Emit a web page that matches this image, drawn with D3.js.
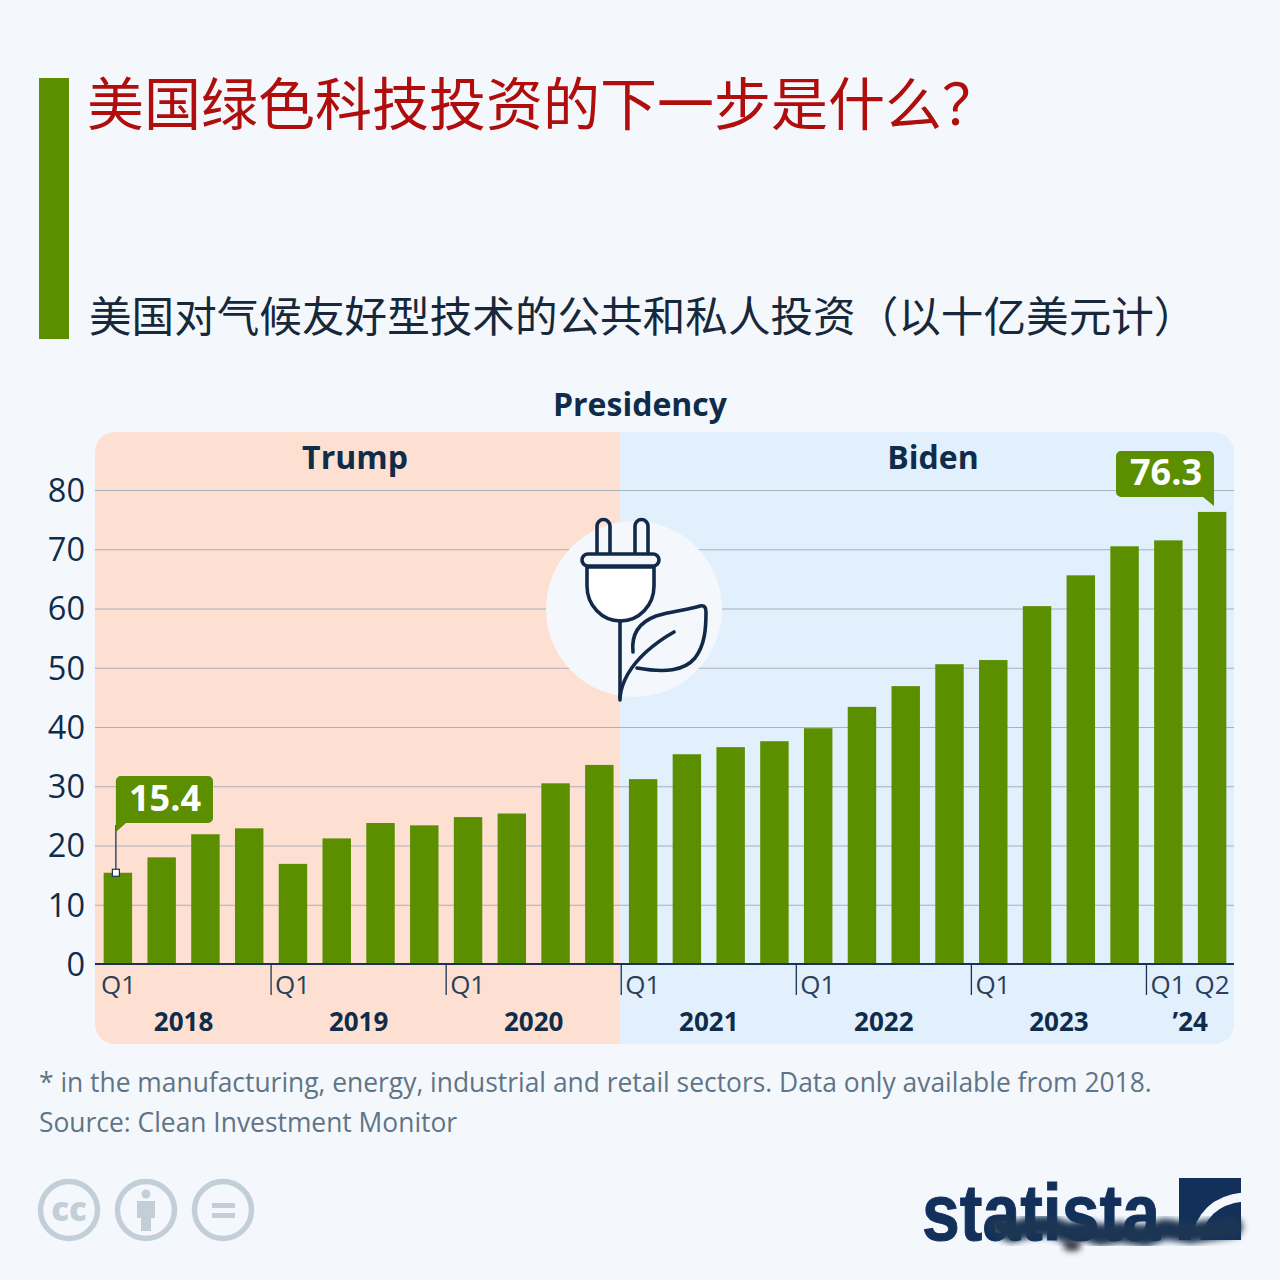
<!DOCTYPE html>
<html>
<head>
<meta charset="utf-8">
<script src="https://cdn.jsdelivr.net/npm/d3@7"></script>
<style>
body { margin: 0; background: #f4f8fc; }
text { font-family: "Open Sans", sans-serif; }
.cjk { font-family: "Noto Sans CJK SC", sans-serif; }
</style>
</head>
<body>
<div id="chart"></div>
<script>
// Data
var quarters = ["Q1","Q2","Q3","Q4"];
var years = ["2018","2019","2020","2021","2022","2023","’24"];
var yearQuarterCount = [4,4,4,4,4,4,2];
var values = [15.4,18.0,21.9,22.9,16.9,21.2,23.8,23.4,24.8,25.4,30.5,33.6,
	31.2,35.4,36.6,37.6,39.8,43.4,46.9,50.6,51.3,60.4,65.6,70.5,71.5,76.3];
var yTicks = [0,10,20,30,40,50,60,70,80];
var presidents = ["Trump","Biden"];
var presidentQuarterCount = [12,14];
var title = "美国绿色科技投资的下一步是什么？";
var subtitle = "美国对气候友好型技术的公共和私人投资（以十亿美元计）";
var notes = ["* in the manufacturing, energy, industrial and retail sectors. Data only available from 2018.",
	"Source: Clean Investment Monitor"];

var dark = "#0f2c4b", green = "#5b8f00", grey = "#5f7486";
var panelLeft = 95, panelRight = 1234, panelTop = 432, panelBottom = 1044, plotLeft = 96;

var svg = d3.select("#chart").append("svg").attr("width", 1280).attr("height", 1280);

//header
svg.append("rect").attr("x", 39).attr("y", 78).attr("width", 30).attr("height", 261).attr("fill", green);
svg.append("text").attr("class", "cjk").attr("x", 87).attr("y", 125)
	.attr("font-size", 57).attr("fill", "#b00d0d").text(title);
svg.append("text").attr("class", "cjk").attr("x", 89).attr("y", 332)
	.attr("font-size", 42.6).attr("fill", "#16283a").text(subtitle);

//scales
var x = d3.scaleBand().domain(d3.range(values.length))
	.range([plotLeft, panelRight]).paddingInner(0.35).paddingOuter(0.175);
var y = d3.scaleLinear().domain([0, 80]).range([964, 490]);
var bandStart = function(i) { return i >= values.length ? panelRight : plotLeft + i * x.step(); };

//presidency panels, rounded on the outside only
var split = bandStart(presidentQuarterCount[0]) - 1;
var clip = svg.append("clipPath").attr("id", "panelClip");
clip.append("rect").attr("x", panelLeft).attr("y", panelTop)
	.attr("width", panelRight - panelLeft).attr("height", panelBottom - panelTop).attr("rx", 20);
var panels = svg.append("g").attr("clip-path", "url(#panelClip)");
panels.append("rect").attr("x", panelLeft).attr("y", panelTop).attr("width", split - panelLeft)
	.attr("height", panelBottom - panelTop).attr("fill", "#fee0d2");
panels.append("rect").attr("x", split).attr("y", panelTop).attr("width", panelRight - split)
	.attr("height", panelBottom - panelTop).attr("fill", "#e2effd");

svg.append("text").attr("x", 640).attr("y", 416).attr("text-anchor", "middle")
	.attr("font-size", 32).attr("font-weight", 700).attr("fill", dark).text("Presidency");
var presidentX = [355, 933];
svg.selectAll(".president").data(presidents).join("text").attr("class", "president")
	.attr("x", function(d, i) { return presidentX[i]; }).attr("y", 469).attr("text-anchor", "middle")
	.attr("font-size", 32).attr("font-weight", 700).attr("fill", dark).text(function(d) { return d; });

//y axis and grid
var yAxis = d3.axisLeft(y).tickValues(yTicks).tickSize(-(panelRight - panelLeft)).tickPadding(10);
var yg = svg.append("g").attr("transform", "translate(" + panelLeft + ",0)").call(yAxis);
yg.select(".domain").remove();
yg.selectAll("line").attr("stroke", "#a9b1ba").attr("stroke-width", 1.2);
yg.selectAll("text").attr("font-size", 32.5).attr("fill", dark).attr("font-family", "'Open Sans', sans-serif")
	.attr("transform", "translate(0,1)");

//icon circle sits above the grid but under the bars
svg.append("circle").attr("cx", 634).attr("cy", 609).attr("r", 88).attr("fill", "#f4f8fc");
var icon = svg.append("g").attr("fill", "none").attr("stroke", "#12294a").attr("stroke-width", 3.6)
	.attr("stroke-linecap", "round").attr("stroke-linejoin", "round");
icon.append("path").attr("fill", "#fff").attr("d", "M587 567V586A33.5 35 0 0 0 654 586V567Z");
icon.append("path").attr("d", "M597 553V526A6.5 6.5 0 0 1 610 526V553M635 553V526A6.5 6.5 0 0 1 648 526V553");
icon.append("rect").attr("x", 582).attr("y", 554).attr("width", 77).attr("height", 12).attr("rx", 6).attr("fill", "#f4f8fc");
icon.append("path").attr("d", "M620 621V700");
icon.append("path").attr("d", "M633 652C631 634 640 622 656 616C672 611 688 610 700 606C705 605 706 608 706 612C706 628 705 645 695 658C684 671 665 673 637 668");
icon.append("path").attr("d", "M620 697C622 680 633 664 646 652C655 644 665 637 674 632");

//bars
svg.selectAll(".bar").data(values).join("rect").attr("class", "bar")
	.attr("x", function(d, i) { return x(i); })
	.attr("y", function(d) { return y(d); })
	.attr("width", x.bandwidth())
	.attr("height", function(d) { return y(0) - y(d); })
	.attr("fill", green);

//baseline and year ticks
svg.append("line").attr("x1", panelLeft).attr("x2", panelRight).attr("y1", y(0)).attr("y2", y(0))
	.attr("stroke", "#1c3350").attr("stroke-width", 2);
var yearStarts = yearQuarterCount.map(function(n, i) { return d3.sum(yearQuarterCount.slice(0, i)); });
svg.selectAll(".yearTick").data(yearStarts.slice(1)).join("line").attr("class", "yearTick")
	.attr("x1", function(d) { return bandStart(d); }).attr("x2", function(d) { return bandStart(d); })
	.attr("y1", y(0)).attr("y2", 995).attr("stroke", "#1c3350").attr("stroke-width", 1.3);
svg.selectAll(".q1").data(yearStarts).join("text").attr("class", "q1")
	.attr("x", function(d, i) { return bandStart(d) + (i ? 4 : 5); }).attr("y", 994)
	.attr("font-size", 26).attr("fill", "#2b4056").text(quarters[0]);
svg.append("text").attr("x", x(values.length - 1) + x.bandwidth() / 2).attr("y", 994).attr("text-anchor", "middle")
	.attr("font-size", 26).attr("fill", "#2b4056").text(quarters[1]);
svg.selectAll(".year").data(years).join("text").attr("class", "year")
	.attr("x", function(d, i) { return (bandStart(yearStarts[i]) + bandStart(yearStarts[i] + yearQuarterCount[i])) / 2; })
	.attr("y", 1031).attr("text-anchor", "middle")
	.attr("font-size", 26).attr("font-weight", 700).attr("fill", dark).text(function(d) { return d; });

//callouts for the first and the last bar
var firstX = x(0) + x.bandwidth() / 2 - 2;
svg.append("line").attr("x1", firstX).attr("x2", firstX).attr("y1", 825).attr("y2", y(values[0]))
	.attr("stroke", "#1c3350").attr("stroke-width", 1.3);
svg.append("rect").attr("x", firstX - 3.5).attr("y", y(values[0]) - 3.5).attr("width", 7).attr("height", 7)
	.attr("fill", "#fff").attr("stroke", "#1c3350").attr("stroke-width", 1.2);
svg.append("path").attr("fill", green)
	.attr("d", "M" + firstX + " 781a5 5 0 0 1 5 -5H208a5 5 0 0 1 5 5V818a5 5 0 0 1 -5 5H126L" + firstX + " 832Z");
svg.append("text").attr("x", 165).attr("y", 811).attr("text-anchor", "middle")
	.attr("font-size", 36).attr("font-weight", 700).attr("fill", "#fff").text(values[0].toFixed(1));
svg.append("path").attr("fill", green)
	.attr("d", "M1116 456a5 5 0 0 1 5 -5H1209a5 5 0 0 1 5 5V506L1203 497H1121a5 5 0 0 1 -5 -5Z");
svg.append("text").attr("x", 1166).attr("y", 485).attr("text-anchor", "middle")
	.attr("font-size", 36).attr("font-weight", 700).attr("fill", "#fff").text(values[values.length - 1].toFixed(1));

//footnotes
svg.selectAll(".note").data(notes).join("text").attr("class", "note")
	.attr("x", 39).attr("y", function(d, i) { return 1092 + i * 40; })
	.attr("font-size", 26.4).attr("fill", grey).text(function(d) { return d; });

//licence icons
var ccColor = "#c3cfd8";
svg.selectAll(".cc").data([69, 146, 223]).join("circle").attr("class", "cc")
	.attr("cx", function(d) { return d; }).attr("cy", 1210).attr("r", 28.5)
	.attr("fill", "none").attr("stroke", ccColor).attr("stroke-width", 5.5);
svg.append("text").attr("x", 69).attr("y", 1221).attr("text-anchor", "middle")
	.attr("font-size", 33).attr("font-weight", 800).attr("fill", ccColor).text("cc");
svg.append("circle").attr("cx", 146).attr("cy", 1194).attr("r", 4.5).attr("fill", ccColor);
svg.append("path").attr("fill", ccColor).attr("d", "M137 1201H155V1218H151V1231H141V1218H137Z");
svg.append("rect").attr("x", 212).attr("y", 1203).attr("width", 23).attr("height", 5).attr("fill", ccColor);
svg.append("rect").attr("x", 212).attr("y", 1213).attr("width", 23).attr("height", 5).attr("fill", ccColor);

//statista logo
svg.append("text").attr("x", 922).attr("y", 1240).attr("font-size", 80).attr("font-weight", 700)
	.style("font-family", "'Liberation Sans Narrow', 'Liberation Sans', sans-serif")
	.attr("textLength", 238).attr("lengthAdjust", "spacingAndGlyphs").attr("fill", "#12305a")
	.attr("stroke", "#12305a").attr("stroke-width", 1).text("statista");
svg.append("rect").attr("x", 1179).attr("y", 1178).attr("width", 62).attr("height", 62).attr("fill", "#12305a");
svg.append("path").attr("fill", "none").attr("stroke", "#f4f8fc").attr("stroke-width", 9)
	.attr("d", "M1195 1242C1200 1215 1215 1200 1243 1197");

//smudge over the lower part of the logo, as in the picture
var blur = svg.append("filter").attr("id", "smudge").attr("x", "-20%").attr("y", "-100%").attr("width", "140%").attr("height", "300%");
blur.append("feGaussianBlur").attr("stdDeviation", 3);
svg.append("path").attr("filter", "url(#smudge)").attr("fill", "none").attr("stroke", "#1d3553")
	.attr("stroke-width", 21).attr("stroke-linecap", "round").attr("stroke-linejoin", "round")
	.attr("d", "M1000 1226L1012 1232L1030 1227L1050 1226L1068 1233L1085 1230L1100 1235L1120 1232L1145 1236L1165 1229L1190 1233L1232 1227");
svg.append("ellipse").attr("filter", "url(#smudge)").attr("cx", 1072).attr("cy", 1246).attr("rx", 9).attr("ry", 5).attr("fill", "#2a2f38");
</script>
</body>
</html>
